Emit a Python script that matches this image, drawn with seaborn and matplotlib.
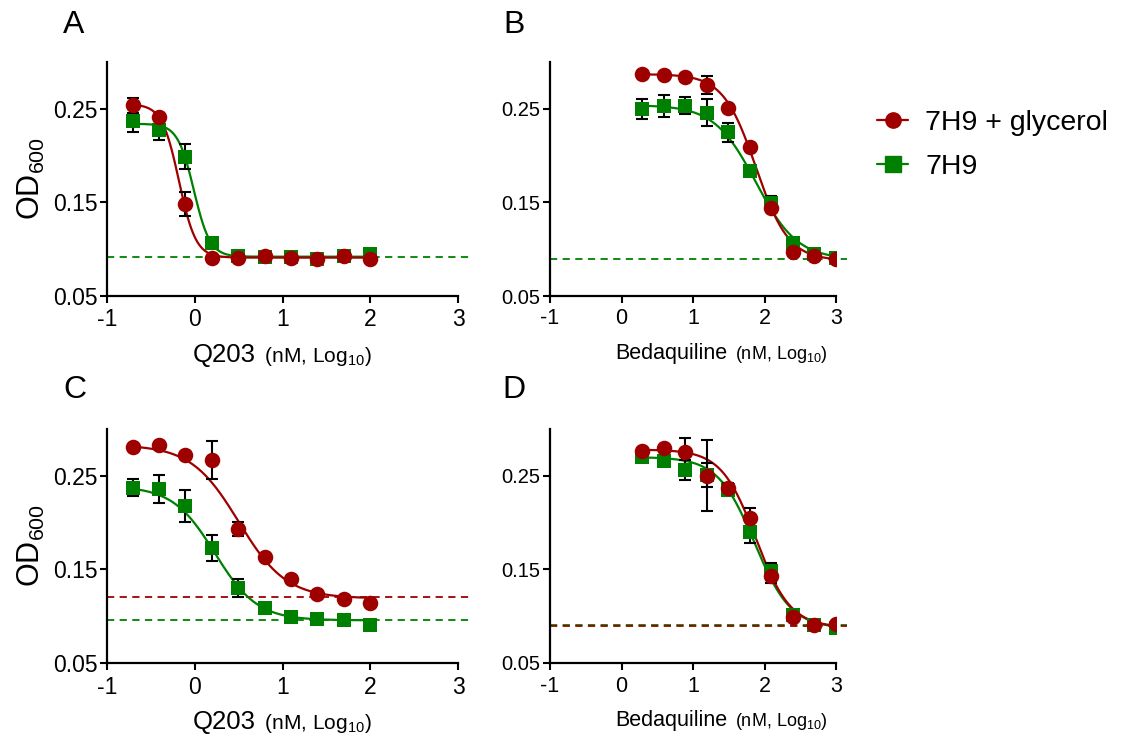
import numpy as np
import pandas as pd
import matplotlib
matplotlib.use("Agg")
import matplotlib.pyplot as plt
import seaborn as sns
from matplotlib.lines import Line2D
from matplotlib.offsetbox import TextArea, HPacker, AnchoredOffsetbox

# --- data (log10 nM doses, OD600 means, error half-widths) ---
q203_log = [-0.709, -0.408, -0.107, 0.194, 0.495, 0.796, 1.097, 1.398, 1.699, 2.0]
bdq_log = [0.291, 0.592, 0.893, 1.194, 1.495, 1.796, 2.097, 2.398, 2.699, 3.0]

a_gly = [0.254, 0.241, 0.148, 0.091, 0.091, 0.093, 0.091, 0.090, 0.093, 0.089]
a_gly_err = [0.008, 0.003, 0.013, 0.002, 0.002, 0.002, 0.002, 0.002, 0.002, 0.002]
a_7h9 = [0.2375, 0.2275, 0.199, 0.107, 0.093, 0.092, 0.092, 0.090, 0.093, 0.095]
a_7h9_err = [0.012, 0.011, 0.0135, 0.002, 0.002, 0.002, 0.002, 0.002, 0.002, 0.002]

b_gly = [0.2874, 0.2864, 0.2835, 0.2757, 0.2507, 0.2097, 0.1438, 0.0967, 0.0928, 0.090]
b_gly_err = [0.002, 0.002, 0.004, 0.0096, 0.002, 0.002, 0.003, 0.002, 0.002, 0.002]
b_7h9 = [0.2496, 0.2532, 0.2532, 0.246, 0.2247, 0.1837, 0.1498, 0.1065, 0.095, 0.0903]
b_7h9_err = [0.011, 0.012, 0.009, 0.014, 0.010, 0.003, 0.007, 0.002, 0.002, 0.002]

c_gly = [0.2813, 0.2831, 0.2724, 0.2671, 0.1934, 0.1632, 0.1397, 0.1237, 0.1183, 0.114]
c_gly_err = [0.002, 0.002, 0.002, 0.0205, 0.0075, 0.002, 0.002, 0.002, 0.002, 0.002]
c_7h9 = [0.2375, 0.2358, 0.2173, 0.1728, 0.130, 0.1087, 0.0991, 0.097, 0.0956, 0.0909]
c_7h9_err = [0.0095, 0.015, 0.017, 0.014, 0.010, 0.002, 0.002, 0.002, 0.002, 0.002]

d_gly = [0.2768, 0.2793, 0.275, 0.250, 0.2368, 0.2046, 0.1429, 0.0989, 0.0911, 0.0921]
d_gly_err = [0.002, 0.002, 0.015, 0.038, 0.002, 0.0114, 0.007, 0.002, 0.002, 0.002]
d_7h9 = [0.2704, 0.2654, 0.256, 0.251, 0.235, 0.190, 0.148, 0.1018, 0.0904, 0.0875]
d_7h9_err = [0.002, 0.002, 0.0107, 0.013, 0.007, 0.012, 0.009, 0.002, 0.002, 0.002]

# 4-parameter logistic fits: top, bottom, logEC50, hill
a_gly_fit = [0.255, 0.091, -0.18, 4.5]
a_7h9_fit = [0.234, 0.092, -0.01, 4.7]
b_gly_fit = [0.287, 0.088, 1.88, 1.9]
b_7h9_fit = [0.254, 0.089, 1.88, 1.5]
c_gly_fit = [0.283, 0.119, 0.50, 1.6]
c_7h9_fit = [0.239, 0.0956, 0.23, 1.8]
d_gly_fit = [0.278, 0.088, 1.88, 1.8]
d_7h9_fit = [0.270, 0.087, 1.86, 1.7]

# bottom plateau reference lines
a_base = {"7H9": 0.0914}
b_base = {"7H9": 0.090}
c_base = {"7H9 + glycerol": 0.120, "7H9": 0.0956}
d_base = {"7H9": 0.0907, "7H9 + glycerol": 0.089}

drugs = ["Q203", "Bedaquiline", "Q203", "Bedaquiline"]
letters = ["A", "B", "C", "D"]
media = ["7H9 + glycerol", "7H9"]

RED = "#9e0000"
GREEN = "#008000"
palette = {"7H9 + glycerol": RED, "7H9": GREEN}
markers = {"7H9 + glycerol": "o", "7H9": "s"}

sns.set_style("ticks")
plt.rcParams["font.family"] = ["Liberation Sans", "DejaVu Sans"]
plt.rcParams["mathtext.fontset"] = "custom"
plt.rcParams["mathtext.rm"] = "Liberation Sans"
for k in ["text.color", "axes.labelcolor", "xtick.color", "ytick.color"]:
    plt.rcParams[k] = "black"


def logistic(x, p):
    top, bottom, ec50, hill = p
    return bottom + (top - bottom) / (1 + 10 ** ((x - ec50) * hill))


panels = [
    (q203_log, a_gly, a_gly_err, a_7h9, a_7h9_err, a_gly_fit, a_7h9_fit, a_base),
    (bdq_log, b_gly, b_gly_err, b_7h9, b_7h9_err, b_gly_fit, b_7h9_fit, b_base),
    (q203_log, c_gly, c_gly_err, c_7h9, c_7h9_err, c_gly_fit, c_7h9_fit, c_base),
    (bdq_log, d_gly, d_gly_err, d_7h9, d_7h9_err, d_gly_fit, d_7h9_fit, d_base),
]

fig = plt.figure(figsize=(11.22, 7.44), dpi=100)
W, H = 1122, 744
boxes = [(107, 62, 458, 296), (550, 62, 836, 296),
         (107, 429, 458, 663), (550, 429, 836, 663)]
letter_pos = [(63, 33), (503, 33), (63, 398), (502, 398)]

for i, (x, gly, gly_err, h9, h9_err, gfit, hfit, base) in enumerate(panels):
    l, t, r, b = boxes[i]
    wide = i in (0, 2)
    ax = fig.add_axes([l / W, 1 - b / H, (r - l) / W, (b - t) / H])

    pts = pd.DataFrame({
        "dose": x * 2,
        "od": h9 + gly,
        "err": h9_err + gly_err,
        "medium": ["7H9"] * len(x) + ["7H9 + glycerol"] * len(x),
    })
    grid = np.linspace(min(x), max(x), 300)
    curves = pd.DataFrame({
        "dose": np.concatenate([grid, grid]),
        "od": np.concatenate([logistic(grid, hfit), logistic(grid, gfit)]),
        "medium": ["7H9"] * len(grid) + ["7H9 + glycerol"] * len(grid),
    })

    # dashed bottom plateaus
    for med, yv in base.items():
        ax.plot([-1, 3.15], [yv, yv], ls=(0, (4, 3)), lw=1.3,
                color=palette[med], clip_on=False, zorder=1)

    for med in ["7H9", "7H9 + glycerol"]:
        sub = curves[curves.medium == med]
        sns.lineplot(data=sub, x="dose", y="od", color=palette[med], lw=1.6,
                     ax=ax, zorder=2, legend=False)
    for med in ["7H9", "7H9 + glycerol"]:
        sub = pts[pts.medium == med]
        ax.errorbar(sub.dose, sub.od, yerr=sub.err, fmt="none", ecolor="black",
                    elinewidth=1.5, capsize=4, capthick=1.5, zorder=3)
    for med in ["7H9", "7H9 + glycerol"]:
        sub = pts[pts.medium == med]
        sns.scatterplot(data=sub, x="dose", y="od", color=palette[med],
                        marker=markers[med], s=105 if med == "7H9" else 125,
                        linewidth=0, ax=ax, zorder=4, legend=False)

    ax.set_xlim(-1, 3)
    ax.set_ylim(0.05, 0.30)
    ax.set_xticks([-1, 0, 1, 2, 3])
    ax.set_xticklabels(["-1", "0", "1", "2", "3"])
    ax.set_yticks([0.05, 0.15, 0.25])
    ax.set_yticklabels(["0.05", "0.15", "0.25"])
    ax.tick_params(width=1.5, length=5, pad=2, color="black")
    ax.tick_params(axis="y", labelsize=16.5 if wide else 14.5)
    ax.tick_params(axis="x", pad=4, labelsize=16.5 if wide else 15.5)
    for s in ["top", "right"]:
        ax.spines[s].set_visible(False)
    for s in ["left", "bottom"]:
        ax.spines[s].set_linewidth(1.6)
        ax.spines[s].set_color("black")
    ax.set_xlabel("")
    ax.set_ylabel("")
    if wide:
        ax.set_ylabel(r"OD$_{\mathregular{600}}$", fontsize=22, labelpad=4)

    lab = HPacker(children=[
        TextArea(drugs[i], textprops=dict(size=18.5 if wide else 15.5)),
        TextArea(r" (nM, Log$_{\mathregular{10}}$)",
                 textprops=dict(size=15 if wide else 13)),
    ], align="baseline", pad=0, sep=2)
    xa = 0.5 if wide else 0.6
    ab = AnchoredOffsetbox(loc="upper center", child=lab, frameon=False,
                           bbox_to_anchor=(xa, -0.2), bbox_transform=ax.transAxes,
                           pad=0, borderpad=0)
    ax.add_artist(ab)

    lx, ly = letter_pos[i]
    fig.text(lx / W, 1 - ly / H, letters[i], fontsize=23, va="baseline")

handles = [Line2D([], [], color=palette[m], marker=markers[m], lw=1.6,
                  markersize=11) for m in media]
fig.legend(handles, media, loc="upper left", bbox_to_anchor=(877 / W, 1 - 110 / H),
           frameon=False, fontsize=20.5, handlelength=1.1, handletextpad=0.6,
           labelspacing=0.62, borderpad=0, borderaxespad=0)

fig.savefig("out.png", dpi=100)
